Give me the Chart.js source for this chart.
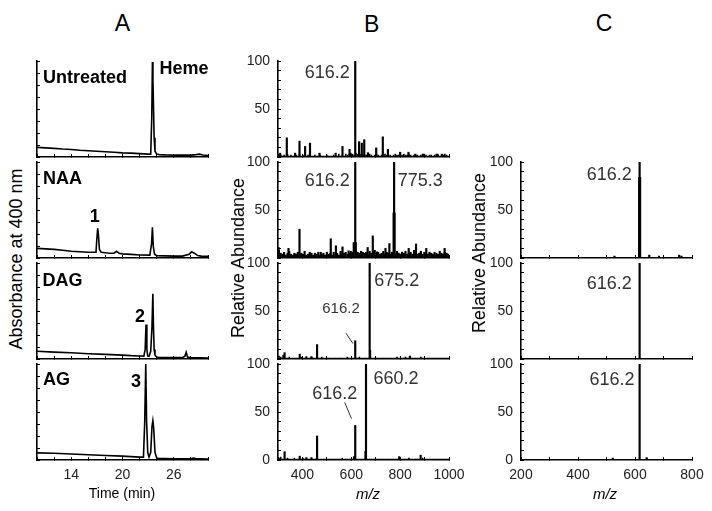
<!DOCTYPE html>
<html><head><meta charset="utf-8">
<script src="https://cdn.jsdelivr.net/npm/chart.js@4.4.0/dist/chart.umd.min.js"></script>
<style>
html,body{margin:0;padding:0;background:#fff;}
#wrap{position:relative;width:712px;height:511px;overflow:hidden;background:#fff;font-family:"Liberation Sans",Arial,sans-serif;color:#000}
canvas{position:absolute}
.t{position:absolute;transform:translate(-50%,-50%);white-space:nowrap;line-height:1}
</style></head><body><div id="wrap"></div>
<script>
// ---------- Column A: chromatograms (time in min, absorbance in % of panel) ----------
const timeUntreated = [10,11,12,13,14,15,16,17,18,19,20,21,22,23,23.3,23.42,23.5,23.56,23.62,23.7,23.8,24.0,24.3,25,26,27,28,28.6,29,29.4,30];
const absUntreated  = [10,9.5,9,8.3,7.8,7,6.5,6,5.5,5,4.3,4,3.5,3,3,40,99,80,55,20,6,3,2.5,2.2,2,2,2,2.5,3,2,1.5];
const timeNAA = [10,11,12,13,14,15,16,16.9,17.0,17.1,17.2,17.3,17.5,18,18.5,19,19.3,19.6,20,21,22,23.2,23.4,23.5,23.6,23.75,24,25,26,27,27.8,28.1,28.4,28.8,29.2,30];
const absNAA  = [10,9.5,9,8,7,6.5,6,6,20,31,22,9,6,5.5,5,5,7,5,4.3,3.8,3.2,3,15,32,12,4,2.5,2.2,2,2,4,6.5,5,2.5,2,1.8];
const timeDAG = [10,12,14,15,16,18,20,21,22,22.5,22.65,22.75,22.85,22.95,23.1,23.3,23.45,23.55,23.62,23.7,23.8,24.0,24.3,25,26,27,27.3,27.45,27.6,28,29,30];
const absDAG  = [8,7.2,6.5,6,5.5,4.8,4,3.5,3.2,3,10,36,10,3,2.8,8,34,68,34,10,4,2,1.6,1.5,1.4,1.4,3,7,2,1.3,1.2,1];
const timeAG = [10,12,14,16,18,20,21,22,22.45,22.6,22.72,22.82,22.95,23.1,23.3,23.45,23.55,23.65,23.8,24.0,24.3,25,26,27,28,28.3,28.6,29,30];
const absAG  = [7.4,7,6.3,5.5,4.7,4,3.5,3,3,40,100,40,8,3,8,35,41,33,8,2,1.5,1.4,1.3,1.2,1.3,2,1.3,1.2,1.1];
const timeTicks = [10,12,14,16,18,20,22,24,26,28,30];
const timeTickLabels = [14,20,26];

// ---------- Column B: MS spectra (m/z, relative abundance) ----------
const mzB1  = [309,336,370,388,411,431,470,536,564,593,616.2,632,643,653,668,702,729,750,800,834,862,896,953,971];
const relB1 = [4,20,4,16.5,11,14.5,4,4,11,8,100,16,14.5,18,4.5,9.5,21,8,5,5,3,3,3,3];
const mzB2  = [302,343,388,475,516,537,564,589,610,616.2,667,688,705,740,756,775.3,835,865,907,982];
const relB2 = [11,10,30,6,20,12.7,11.6,7.5,16,100,11,23,6.4,10,15,100,10,14.6,10,10];
const mzB2thick  = [616.2,775.3];
const relB2thick = [16,47];
const mzB3  = [322,327,389,416,437,460,616.2,675.2,677,840];
const relB3 = [4,6.6,5,2.4,2.4,15,19,100,9,3];
const mzB4  = [327,389,416,437,460,611,616.2,658,660.2,796,884];
const relB4 = [8.7,4,2.5,2.5,25,3.5,36,9,100,3.5,5];
// baseline noise, sampled every 7 m/z from 304
const noiseStart = 304, noiseStep = 7;
const noiseB1 = [3,2,1,2,1,3,1,2,1,1, 2,1,3,1,2,1,1,2,1,1, 1,2,1,1,2,1,1,1,2,1, 1,1,2,1,1,3,1,2,1,3, 2,3,4,3,2,4,3,2,3,2, 3,2,2,3,2,1,2,3,2,1, 2,1,3,2,1,2,1,2,3,2, 2,1,2,3,2,2,3,2,1,2, 2,2,1,2,3,2,2,1,2,2, 1,2,3,2,1,2,2,3,2,1];
const noiseB2 = [8,5,4,6,3,5,7,4,3,5, 4,6,3,5,4,7,3,4,6,5, 3,5,4,6,3,4,5,3,6,4, 5,3,6,4,5,3,7,4,5,6, 4,5,7,6,5,8,6,5,7,6, 5,6,4,7,5,6,8,5,6,4, 5,7,4,6,5,4,6,5,4,7, 5,4,6,5,7,4,5,6,4,8, 6,4,5,7,4,6,5,4,6,5, 4,6,5,4,7,5,4,6,5,4];
const noiseB3 = [3,2,1,1,1,1,2,1,1,1, 1,1,1,2,1,1,1,1,1,2, 1,1,1,1,1,2,1,1,1,1, 1,1,1,1,1,1,1,1,1,1, 2,1,1,1,1,1,1,2,1,1, 1,1,1,1,1,1,1,1,1,1, 1,1,1,1,1,1,1,1,1,2, 1,1,1,1,2,1,1,1,1,1, 1,1,1,2,1,1,1,1,1,1, 1,1,1,1,1,1,1,1,1,1];
const noiseB4 = [2,3,1,1,1,2,1,1,1,2, 1,1,1,1,2,1,1,1,1,1, 1,1,2,1,1,1,1,1,1,1, 1,1,1,1,1,1,1,2,1,1, 1,1,1,1,1,1,1,1,1,1, 1,1,1,1,1,1,1,1,1,1, 1,1,1,1,1,1,1,1,1,1, 1,1,1,1,1,1,2,1,1,1, 1,1,1,1,2,1,1,1,1,1, 1,1,1,1,1,1,1,1,1,1];
const leaderB3 = [[578,27],[607,16]];
const leaderB4 = [[573,60],[601,43]];
const mzTicksB = [300,400,500,600,700,800,900,1000];
const mzLabelsB = [400,600,800,1000];

// ---------- Column C: MS/MS spectra ----------
const mzC1  = [528,616.2,650,684,755,763];
const relC1 = [2,100,3,2,3,2];
const mzC1thick  = [616.2];
const relC1thick = [84];
const mzC2  = [616.2];
const relC2 = [100];
const mzC3  = [522,616.2,641];
const relC3 = [2,100,2.5];
const mzTicksC = [200,300,400,500,600,700,800];
const mzLabelsC = [200,400,600,800];

const relTicks = [0,10,20,30,40,50,60,70,80,90,100];
const absTicks = [0,12.5,25,37.5,50,62.5,75,87.5,100];

// ---------- layout ----------
const FONT = "'Liberation Sans', Arial, sans-serif";
const wrap = document.getElementById('wrap');
const rows = [[61,157],[162,258],[263,359],[364,460]];

function pts(xs, ys){ return xs.map((x,i)=>({x:x, y:ys[i]})); }
function noisePts(arr){ return arr.map((v,i)=>({x: noiseStart + i*noiseStep, y: v})); }

function panel(o){
  const c = document.createElement('canvas');
  const W = o.yW + (o.right - o.left) + o.padR;
  const H = 10 + (o.bottom - o.top) + o.xH;
  c.width = W; c.height = H;
  c.style.left = (o.left - o.yW) + 'px'; c.style.top = (o.top - 10) + 'px';
  c.style.width = W + 'px'; c.style.height = H + 'px';
  wrap.appendChild(c);
  new Chart(c, {
    type: o.type,
    data: {datasets: o.datasets},
    options: {
      responsive:false, animation:false, devicePixelRatio:1,
      layout:{padding:{top:10,right:o.padR,left:0,bottom:0}, autoPadding:false},
      plugins:{legend:{display:false}, tooltip:{enabled:false}},
      scales:{
        x:{type:'linear', min:o.xMin, max:o.xMax, offset:false,
          afterFit(s){ s.height = o.xH; s.paddingLeft = 0; s.paddingRight = 0; },
          afterBuildTicks(s){ s.ticks = o.xTicks.map(v=>({value:v})); },
          ticks:{display:o.showX, autoSkip:false, maxRotation:0, padding:10, color:'#222',
            font:{family:FONT, size:14}, callback:(v)=> o.xLabels.includes(v) ? String(v) : ''},
          grid:{display:true, drawOnChartArea:false, drawTicks:true, tickLength:-3, color:'#000', offset:false},
          border:{display:true, color:'#000', width:1.6}},
        y:{min:0, max:100,
          afterFit(s){ s.width = o.yW; s.paddingTop = 0; s.paddingBottom = 0; },
          afterBuildTicks(s){ s.ticks = o.yTicks.map(v=>({value:v})); },
          ticks:{display:o.showY, autoSkip:false, padding:11, color:'#222',
            font:{family:FONT, size:14}, callback:(v)=> o.yLabels.includes(v) ? String(v) : ''},
          grid:{display:true, drawOnChartArea:false, drawTicks:true, tickLength:-3, color:'#000'},
          border:{display:true, color:'#000', width:1.6}}
      }
    }
  });
}

function lineSet(xs, ys){
  return {type:'line', data:pts(xs,ys), borderColor:'#000', borderWidth:1.6, pointRadius:0, tension:0, fill:false};
}
function barSet(data, thick, color){
  return {type:'bar', data:data, backgroundColor:color||'#000', borderWidth:0, barThickness:thick, grouped:false};
}
function leaderSet(arr){
  return {type:'line', data:arr.map(p=>({x:p[0], y:p[1]})), borderColor:'#333', borderWidth:1, pointRadius:0};
}

// Column A
const aSeries = [[timeUntreated,absUntreated],[timeNAA,absNAA],[timeDAG,absDAG],[timeAG,absAG]];
aSeries.forEach((s,i)=>{
  const last = i===3;
  panel({type:'line', left:37, right:208, top:rows[i][0], bottom:rows[i][1], yW:6, padR:8,
    xH: last?30:4, xMin:10, xMax:30, xTicks:timeTicks, xLabels: last?timeTickLabels:[], showX:last,
    yTicks:absTicks, yLabels:[], showY:false,
    datasets:[lineSet(s[0], s[1])]});
});

// Column B
const bSets = [
  [barSet(noisePts(noiseB1),1), barSet(pts(mzB1,relB1),1.5)],
  [barSet(noisePts(noiseB2),1.5), barSet(pts(mzB2,relB2),1.5), barSet(pts(mzB2thick,relB2thick),2.5)],
  [barSet(noisePts(noiseB3),1), barSet(pts(mzB3,relB3),1.5), leaderSet(leaderB3)],
  [barSet(noisePts(noiseB4),1), barSet(pts(mzB4,relB4),1.5), leaderSet(leaderB4)]
];
bSets.forEach((ds,i)=>{
  const last = i===3;
  panel({type:'bar', left:278, right:449, top:rows[i][0], bottom:rows[i][1], yW:40, padR:22,
    xH: last?30:4, xMin:300, xMax:1000, xTicks:mzTicksB, xLabels: last?mzLabelsB:[], showX:last,
    yTicks:relTicks, yLabels: last?[0,50,100]:[50,100], showY:true, datasets:ds});
});

// Column C
const cSets = [
  [barSet(pts(mzC1,relC1),1.5), barSet(pts(mzC1thick,relC1thick),2.5)],
  [barSet(pts(mzC2,relC2),1.5)],
  [barSet(pts(mzC3,relC3),1.5)]
];
cSets.forEach((ds,j)=>{
  const i = j+1, last = i===3;
  panel({type:'bar', left:521, right:692, top:rows[i][0], bottom:rows[i][1], yW:40, padR:18,
    xH: last?30:4, xMin:200, xMax:800, xTicks:mzTicksC, xLabels: last?mzLabelsC:[], showX:last,
    yTicks:relTicks, yLabels: last?[0,50,100]:[50,100], showY:true, datasets:ds});
});

// ---------- texts ----------
function txt(s, x, y, size, opt){
  opt = opt || {};
  const d = document.createElement('div');
  d.className = 't';
  d.textContent = s;
  d.style.left = x+'px'; d.style.top = y+'px';
  d.style.fontSize = size+'px';
  if (opt.bold) d.style.fontWeight = 'bold';
  if (opt.italic) d.style.fontStyle = 'italic';
  if (opt.color) d.style.color = opt.color;
  if (opt.rot) d.style.transform = 'translate(-50%,-50%) rotate(-90deg)';
  wrap.appendChild(d);
}
txt('A', 122.5, 23, 23); txt('B', 371.7, 23.5, 23); txt('C', 604, 23, 23);
txt('Absorbance at 400 nm', 16, 258.5, 18, {rot:true});
txt('Relative Abundance', 238, 257.5, 18, {rot:true});
txt('Relative Abundance', 479, 253, 18, {rot:true});
txt('Untreated', 85, 76.7, 18, {bold:true});
txt('Heme', 184, 67.5, 18, {bold:true});
txt('NAA', 62.5, 178, 18, {bold:true});
txt('1', 94.7, 216, 18, {bold:true});
txt('DAG', 62.5, 280, 18, {bold:true});
txt('2', 140, 316, 18, {bold:true});
txt('AG', 56.5, 379, 18, {bold:true});
txt('3', 136, 381, 18, {bold:true});
txt('Time (min)', 122, 492.7, 14);
const g = '#333';
txt('616.2', 327.3, 71.7, 18, {color:g});
txt('616.2', 327.3, 179.7, 18, {color:g});
txt('775.3', 420.3, 179.7, 18, {color:g});
txt('675.2', 396.7, 279.7, 18, {color:g});
txt('616.2', 341, 306.7, 15, {color:g});
txt('660.2', 396, 377.5, 18, {color:g});
txt('616.2', 334.7, 392.5, 18, {color:g});
txt('616.2', 609.3, 174, 18, {color:g});
txt('616.2', 609.3, 282.5, 18, {color:g});
txt('616.2', 612, 379, 18, {color:g});
txt('m/z', 368, 493, 15, {italic:true});
txt('m/z', 605, 493, 15, {italic:true});
</script>
</body></html>
